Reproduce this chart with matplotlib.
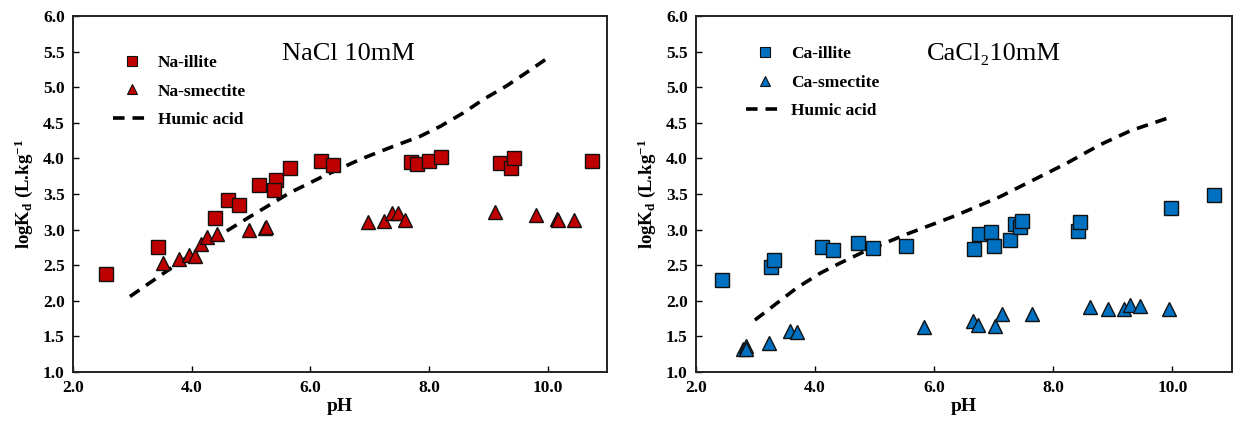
import matplotlib
matplotlib.use("Agg")
import matplotlib.pyplot as plt
from matplotlib.lines import Line2D

plt.rcParams['font.family'] = ['Liberation Serif', 'DejaVu Serif']
plt.rcParams['mathtext.fontset'] = 'custom'
plt.rcParams['mathtext.rm'] = 'Liberation Serif:bold'
plt.rcParams['mathtext.it'] = 'Liberation Serif:bold'
plt.rcParams['mathtext.bf'] = 'Liberation Serif:bold'
plt.rcParams['mathtext.default'] = 'rm'

# ---------------- Data: NaCl 10 mM ----------------
na_illite_ph = [2.56, 3.44, 4.40, 4.61, 4.79, 5.13, 5.42, 5.39, 5.65, 6.18, 6.38,
                7.70, 7.79, 8.00, 8.21, 9.19, 9.38, 9.43, 10.74]
na_illite_k = [2.38, 2.75, 3.16, 3.42, 3.34, 3.62, 3.69, 3.55, 3.87, 3.97, 3.91,
               3.95, 3.92, 3.96, 4.02, 3.93, 3.87, 4.01, 3.97]
na_smect_ph = [3.51, 3.78, 3.96, 4.05, 4.16, 4.26, 4.42, 4.96, 5.24, 5.26,
               6.97, 7.24, 7.37, 7.47, 7.60, 9.11, 9.80, 10.16, 10.18, 10.44]
na_smect_k = [2.53, 2.59, 2.64, 2.63, 2.80, 2.90, 2.94, 2.99, 3.02, 3.04,
              3.10, 3.12, 3.24, 3.24, 3.13, 3.25, 3.20, 3.15, 3.13, 3.13]
na_humic_ph = [2.96, 3.69, 4.53, 5.00, 5.66, 6.22, 6.85, 7.40, 7.85, 8.19,
               8.58, 8.92, 9.31, 9.65, 10.00]
na_humic_k = [2.06, 2.48, 2.95, 3.19, 3.52, 3.75, 3.99, 4.17, 4.31, 4.45,
              4.64, 4.83, 5.02, 5.21, 5.41]

# ---------------- Data: CaCl2 10 mM ----------------
ca_illite_ph = [2.44, 3.26, 3.31, 4.11, 4.30, 4.72, 4.98, 5.52, 6.66, 6.75, 6.96,
                7.00, 7.28, 7.35, 7.44, 7.47, 8.41, 8.44, 9.98, 10.70]
ca_illite_k = [2.29, 2.48, 2.57, 2.75, 2.72, 2.81, 2.74, 2.77, 2.73, 2.94, 2.96,
               2.77, 2.86, 3.08, 3.04, 3.12, 2.98, 3.10, 3.30, 3.49]
ca_smect_ph = [2.79, 2.84, 2.84, 3.23, 3.57, 3.70, 5.82, 6.65, 6.73, 7.02, 7.14,
               7.65, 8.61, 8.91, 9.18, 9.28, 9.45, 9.95]
ca_smect_k = [1.33, 1.37, 1.32, 1.41, 1.57, 1.56, 1.63, 1.71, 1.66, 1.65, 1.81,
              1.82, 1.91, 1.88, 1.88, 1.94, 1.92, 1.88]
ca_humic_ph = [2.99, 3.69, 4.09, 4.42, 4.82, 5.55, 6.34, 7.10, 7.60, 8.22,
               8.78, 9.30, 9.90]
ca_humic_k = [1.73, 2.18, 2.39, 2.53, 2.69, 2.94, 3.19, 3.46, 3.67, 3.93,
              4.19, 4.39, 4.56]

x_ticks = [2.0, 4.0, 6.0, 8.0, 10.0]
y_ticks = [1.0, 1.5, 2.0, 2.5, 3.0, 3.5, 4.0, 4.5, 5.0, 5.5, 6.0]

red = '#C00000'
blue = '#0070C0'

fig = plt.figure(figsize=(12.43, 4.21), dpi=100)
ax1 = fig.add_axes([73/1243, 1-372/421, (607-73)/1243, (372-16)/421])
ax2 = fig.add_axes([696/1243, 1-372/421, (1232-696)/1243, (372-16)/421])


def panel(ax, illite_ph, illite_k, smect_ph, smect_k, hum_ph, hum_k, color,
          lab_i, lab_s, title, title_x, leg_anchor):
    ax.plot(hum_ph, hum_k, ls=(0, (3.2, 2.2)), color='black', lw=2.6, zorder=2)
    ax.plot(illite_ph, illite_k, ls='none', marker='s', ms=9.5, mfc=color,
            mec='#111111', mew=1.0, zorder=3)
    ax.plot(smect_ph, smect_k, ls='none', marker='^', ms=10.5, mfc=color,
            mec='#111111', mew=1.0, zorder=3)
    ax.set_xlim(2.0, 11.0)
    ax.set_ylim(1.0, 6.0)
    ax.set_xticks(x_ticks)
    ax.set_xticklabels([f'{v:.1f}' for v in x_ticks])
    ax.set_yticks(y_ticks)
    ax.set_yticklabels([f'{v:.1f}' for v in y_ticks])
    ax.tick_params(direction='in', length=4, width=1.0, labelsize=12.5,
                   pad=6, top=False, right=False)
    for lbl in ax.get_xticklabels() + ax.get_yticklabels():
        lbl.set_fontweight('bold')
    for s in ax.spines.values():
        s.set_linewidth(1.4)
        s.set_color('#222222')
    ax.set_xlabel('pH', fontsize=14, fontweight='bold', labelpad=1)
    ax.set_ylabel(r'logK$_{\mathrm{d}}$ (L.kg$^{-1}$', fontsize=13.5,
                  fontweight='bold', labelpad=6)
    ax.text(title_x, 5.46, title, fontsize=19, va='center', ha='left')
    handles = [
        Line2D([], [], ls='none', marker='s', ms=7, mfc=color, mec='#111111', mew=0.8),
        Line2D([], [], ls='none', marker='^', ms=7.5, mfc=color, mec='#111111', mew=0.8),
        Line2D([], [], ls=(0, (3.2, 2.2)), color='black', lw=2.6),
    ]
    leg = ax.legend(handles, [lab_i, lab_s, 'Humic acid'], loc='upper left',
                    bbox_to_anchor=leg_anchor, frameon=False,
                    prop={'family': 'Liberation Serif', 'weight': 'bold', 'size': 12.5},
                    handlelength=2.2, handletextpad=0.4, labelspacing=0.72)
    return leg


panel(ax1, na_illite_ph, na_illite_k, na_smect_ph, na_smect_k, na_humic_ph,
      na_humic_k, red, 'Na-illite', 'Na-smectite', 'NaCl 10mM', 5.52,
      (0.045, 0.935))
panel(ax2, ca_illite_ph, ca_illite_k, ca_smect_ph, ca_smect_k, ca_humic_ph,
      ca_humic_k, blue, 'Ca-illite', 'Ca-smectite', 'CaCl\u208210mM', 5.88,
      (0.064, 0.96))

fig.savefig('out.png', dpi=100)
